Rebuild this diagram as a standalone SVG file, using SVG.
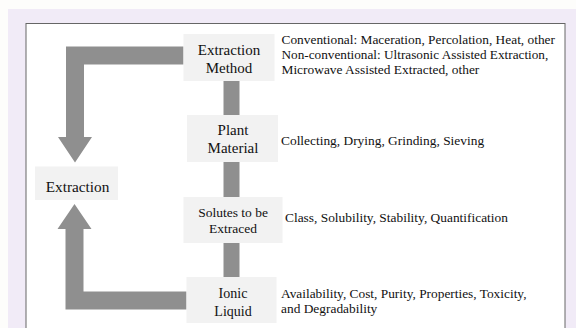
<svg xmlns="http://www.w3.org/2000/svg" width="576" height="328" viewBox="0 0 576 328">
<style>
.box{fill:#f2f2f2}
.lbl{fill:#111;text-anchor:middle}
.desc{fill:#111;font-size:13.4px}
.conn{fill:#8f8f8f}
</style>
<rect x="0" y="0" width="576" height="328" fill="#fdfdfb"/>
<rect x="8" y="9" width="568" height="319" fill="#f1ebf7"/>
<rect x="26" y="23.5" width="539" height="320" fill="#ffffff" stroke="#666" stroke-width="1"/>
<g id="connectors" class="conn">
<path d="M183.5,46.5 H66 V137 H58 L75,162.5 L92,137 H84 V64.5 H183.5 Z"/>
<path d="M186.5,291.5 H83.5 V229 H91.5 L74.5,204 L57.5,229 H65.5 V309.5 H186.5 Z"/>
<rect x="223.5" y="81" width="16" height="34"/>
<rect x="223.5" y="162" width="16" height="35"/>
<rect x="223.5" y="243" width="16" height="34"/>
</g>
<g font-family="'Liberation Serif', Tinos, 'Times New Roman', Times, 'Noto Serif', 'DejaVu Serif', FreeSerif, serif">
<g id="extraction-method">
<rect class="box" x="183.5" y="34" width="91" height="47"/>
<text class="lbl" x="229" y="55" font-size="15">Extraction</text>
<text class="lbl" x="229" y="73" font-size="15">Method</text>
<text class="desc" x="281.5" y="44" textLength="273.5" lengthAdjust="spacingAndGlyphs">Conventional: Maceration, Percolation, Heat, other</text>
<text class="desc" x="281.5" y="59.3" textLength="266.8" lengthAdjust="spacingAndGlyphs">Non-conventional: Ultrasonic Assisted Extraction,</text>
<text class="desc" x="281.5" y="74.3" textLength="197.8" lengthAdjust="spacingAndGlyphs">Microwave Assisted Extracted, other</text>
</g>
<g id="plant-material">
<rect class="box" x="187" y="115" width="91" height="47"/>
<text class="lbl" x="233" y="135" font-size="15">Plant</text>
<text class="lbl" x="233" y="153.3" font-size="15">Material</text>
<text class="desc" x="281" y="145">Collecting, Drying, Grinding, Sieving</text>
</g>
<g id="solutes">
<rect class="box" x="183.5" y="197" width="99" height="46"/>
<text class="lbl" x="233" y="216.7" font-size="13.5">Solutes to be</text>
<text class="lbl" x="233" y="232.8" font-size="13.5">Extraced</text>
<text class="desc" x="285" y="222.3">Class, Solubility, Stability, Quantification</text>
</g>
<g id="ionic-liquid">
<rect class="box" x="186.5" y="277" width="90" height="46"/>
<text class="lbl" x="233" y="298.3" font-size="14">Ionic</text>
<text class="lbl" x="233" y="315.5" font-size="14">Liquid</text>
<text class="desc" x="281" y="298.3" textLength="245.5" lengthAdjust="spacingAndGlyphs">Availability, Cost, Purity, Properties, Toxicity,</text>
<text class="desc" x="281" y="313.3">and Degradability</text>
</g>
<g id="extraction">
<rect class="box" x="35" y="166.5" width="83" height="33.5"/>
<text class="lbl" x="77.5" y="191.7" font-size="15.3">Extraction</text>
</g>
</g>
</svg>
